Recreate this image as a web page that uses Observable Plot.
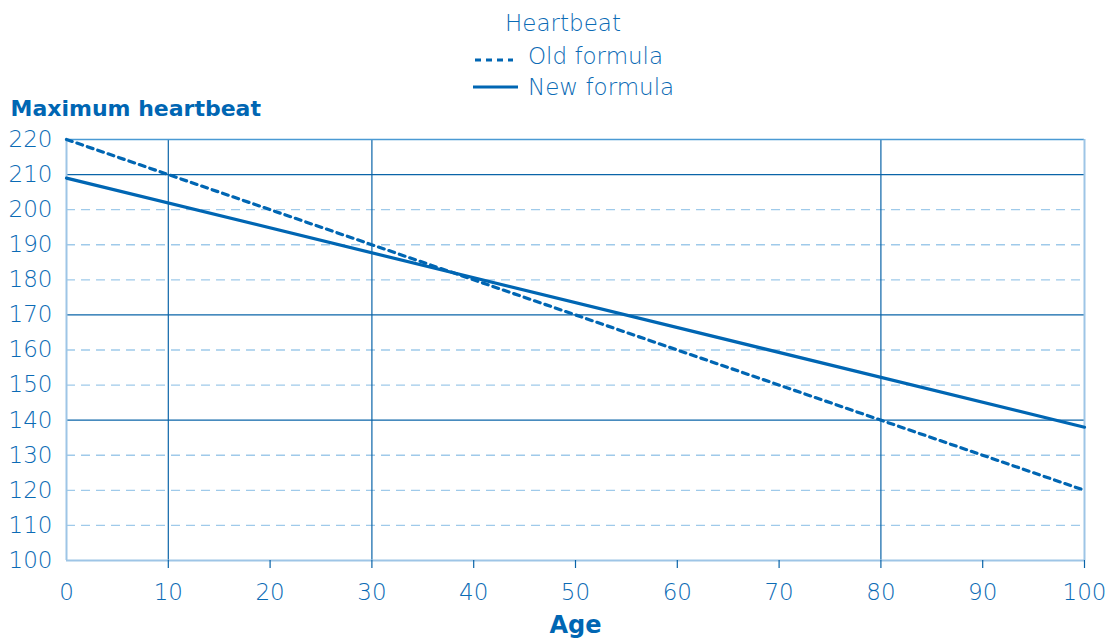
<!DOCTYPE html>
<html>
<head>
<meta charset="utf-8">
<script src="https://cdn.jsdelivr.net/npm/d3@7"></script>
<script src="https://cdn.jsdelivr.net/npm/@observablehq/plot@0.6"></script>
<style>
  html, body { margin: 0; padding: 0; background: #fff; }
  body { width: 1111px; height: 638px; overflow: hidden; font-family: "DejaVu Sans", sans-serif; }
  #legend { display: block; }
  #chart svg { display: block; }
</style>
</head>
<body>
<svg id="legend" width="1111" height="100"></svg>
<div id="chart"></div>
<script>
// ---- data ----
const ages = [0, 100];
const oldFormula = [220, 120];
const newFormula = [209, 138];
const seriesNames = ["Old formula", "New formula"];
const legendTitle = "Heartbeat";
const yTitle = "Maximum heartbeat";
const xTitle = "Age";
const xTicks = [0, 10, 20, 30, 40, 50, 60, 70, 80, 90, 100];
const yTicks = [100, 110, 120, 130, 140, 150, 160, 170, 180, 190, 200, 210, 220];
const ySolidGrid = [140, 170, 210];
const yDashedGrid = [110, 120, 130, 150, 160, 180, 190, 200];
const xSolidGrid = [10, 30, 80];

// ---- styles ----
const textColor = "#0b6bb5";
const lineColor = "#0066b3";
const gridSolid = "#0a64a8";
const gridDashed = "#9fcaea";
const frameColor = "#9ec5e6";
const topColor = "#4a9ad4";
const font = "'DejaVu Sans', sans-serif";

const oldData = ages.map((a, i) => ({age: a, hb: oldFormula[i]}));
const newData = ages.map((a, i) => ({age: a, hb: newFormula[i]}));

// ---- legend (SVG above the chart) ----
const lg = d3.select("#legend");
lg.append("text").attr("x", 563).attr("y", 31).attr("text-anchor", "middle")
  .attr("font-family", font).attr("font-weight", 300).attr("font-size", 23)
  .attr("fill", textColor).text(legendTitle);
lg.append("line").attr("x1", 475).attr("x2", 513).attr("y1", 60).attr("y2", 60)
  .attr("stroke", lineColor).attr("stroke-width", 3).attr("stroke-dasharray", "6,5");
lg.append("text").attr("x", 528).attr("y", 64)
  .attr("font-family", font).attr("font-weight", 300).attr("font-size", 23)
  .attr("fill", textColor).text(seriesNames[0]);
lg.append("line").attr("x1", 473).attr("x2", 518).attr("y1", 87).attr("y2", 87)
  .attr("stroke", lineColor).attr("stroke-width", 3);
lg.append("text").attr("x", 528).attr("y", 95)
  .attr("font-family", font).attr("font-weight", 300).attr("font-size", 23)
  .attr("fill", textColor).text(seriesNames[1]);

// ---- chart ----
const chart = Plot.plot({
  width: 1111,
  height: 538,
  marginLeft: 66,
  marginRight: 27,
  marginTop: 39,
  marginBottom: 78,
  style: {fontFamily: font, fontSize: "23px", color: textColor, background: "#fff", overflow: "visible"},
  x: {domain: [0, 100]},
  y: {domain: [100, 220]},
  marks: [
    Plot.ruleY(yDashedGrid, {stroke: gridDashed, strokeWidth: 1.3, strokeDasharray: "9,6"}),
    Plot.ruleY(ySolidGrid, {stroke: gridSolid, strokeWidth: 1.2}),
    Plot.ruleX(xSolidGrid, {y1: 100, y2: 220, stroke: gridSolid, strokeWidth: 1.2}),
    Plot.ruleY([220], {stroke: topColor, strokeWidth: 1.5}),
    Plot.ruleX([0], {y1: 100, y2: 220, stroke: frameColor, strokeWidth: 2}),
    Plot.ruleX([100], {y1: 100, y2: 220, stroke: frameColor, strokeWidth: 2}),
    Plot.ruleY([100], {stroke: frameColor, strokeWidth: 2}),
    Plot.axisX({ticks: xTicks.filter(d => d > 0), tickSize: 8, stroke: gridSolid, strokeWidth: 1.2, text: null, label: null}),
    Plot.axisX({ticks: xTicks, tickSize: 0, tickPadding: 23, fill: textColor, fontWeight: 300, label: null}),
    Plot.axisY({ticks: yTicks, tickSize: 0, tickPadding: 14, fill: textColor, fontWeight: 300, label: null}),
    Plot.text([xTitle], {frameAnchor: "bottom", dy: 72, lineAnchor: "bottom", fontWeight: "bold", fontSize: 24, fill: lineColor}),
    Plot.text([yTitle], {frameAnchor: "top-left", dx: -56, dy: -24, lineAnchor: "bottom", textAnchor: "start", fontWeight: "bold", fontSize: 22, fill: lineColor, style: "letter-spacing:0.4px"}),
    Plot.line(oldData, {x: "age", y: "hb", stroke: lineColor, strokeWidth: 3.2, strokeDasharray: "6,5"}),
    Plot.line(newData, {x: "age", y: "hb", stroke: lineColor, strokeWidth: 3.2})
  ]
});
document.getElementById("chart").appendChild(chart);
</script>
</body>
</html>
